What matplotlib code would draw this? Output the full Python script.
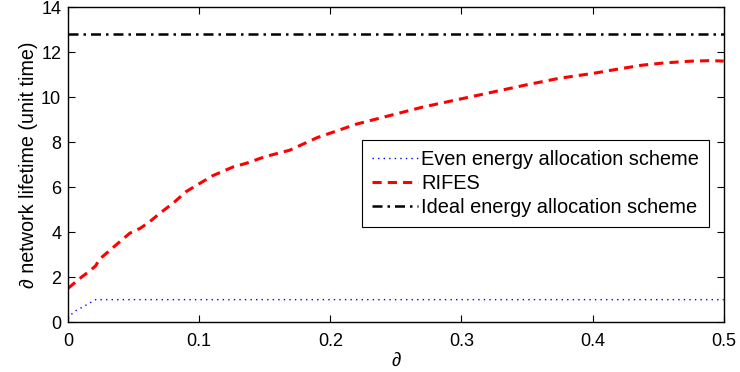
import matplotlib
matplotlib.use("Agg")
import matplotlib.pyplot as plt

# ---------------------------------------------------------------------------
# Data
# ---------------------------------------------------------------------------
rifes_x = [0.0, 0.008, 0.017, 0.021, 0.024, 0.03, 0.04, 0.047, 0.055, 0.062,
           0.07, 0.08, 0.09, 0.1, 0.11, 0.12, 0.126, 0.136, 0.15, 0.169,
           0.19, 0.22, 0.25, 0.27, 0.29, 0.306, 0.33, 0.35, 0.375, 0.4,
           0.42, 0.438, 0.455, 0.476, 0.49, 0.5]
rifes_y = [1.5, 1.9, 2.3, 2.5, 2.8, 3.1, 3.6, 3.95, 4.17, 4.45,
           4.84, 5.28, 5.8, 6.15, 6.5, 6.75, 6.9, 7.06, 7.35, 7.64,
           8.2, 8.8, 9.25, 9.55, 9.8, 10.0, 10.3, 10.55, 10.84, 11.05,
           11.25, 11.42, 11.52, 11.6, 11.62, 11.6]

even_x = [0.0, 0.004, 0.012, 0.021, 0.1, 0.2, 0.3, 0.4, 0.5]
even_y = [0.15, 0.45, 0.7, 1.0, 1.0, 1.0, 1.0, 1.0, 1.0]

ideal_x = [0.0, 0.5]
ideal_y = [12.8, 12.8]

x_ticks = [0, 0.1, 0.2, 0.3, 0.4, 0.5]
y_ticks = [0, 2, 4, 6, 8, 10, 12, 14]

# ---------------------------------------------------------------------------
plt.rcParams["font.family"] = ["Liberation Sans", "DejaVu Sans"]
fig = plt.figure(figsize=(7.4, 3.72), dpi=100)
ax = fig.add_axes([0.092, 0.134, 0.886, 0.847])

ax.plot(even_x, even_y, color="blue", linestyle=":", linewidth=1.0,
        dashes=(1, 3), label="Even energy allocation scheme")
ax.plot(rifes_x, rifes_y, color="red", linestyle="--", linewidth=2.2,
        dashes=(3, 2), label="RIFES")
ax.plot(ideal_x, ideal_y, color="black", linestyle="-.", linewidth=1.8,
        dashes=(4, 2, 1, 2), label="Ideal energy allocation scheme")

ax.set_xlim(0, 0.5)
ax.set_ylim(0, 14)
ax.set_xticks(x_ticks)
ax.set_xticklabels(["0", "0.1", "0.2", "0.3", "0.4", "0.5"])
ax.set_yticks(y_ticks)
ax.tick_params(direction="in", top=True, right=True, labelsize=13,
               length=5, width=0.8)
ax.tick_params(axis="x", pad=8)
ax.tick_params(axis="y", pad=5)
for s in ax.spines.values():
    s.set_linewidth(1.0)

ax.set_xlabel("\u2202", fontsize=13.5, labelpad=2)
ax.set_ylabel("\u2202 network lifetime (unit time)", fontsize=14.2, labelpad=2)

leg = ax.legend(loc="upper left", bbox_to_anchor=(0.449, 0.578), fontsize=14.4,
                frameon=True, fancybox=False, framealpha=1, edgecolor="black",
                handlelength=2.3, handletextpad=0.15, labelspacing=0.25,
                borderpad=0.5, borderaxespad=0)
leg.get_frame().set_linewidth(0.8)

fig.savefig("out.png", dpi=100)
